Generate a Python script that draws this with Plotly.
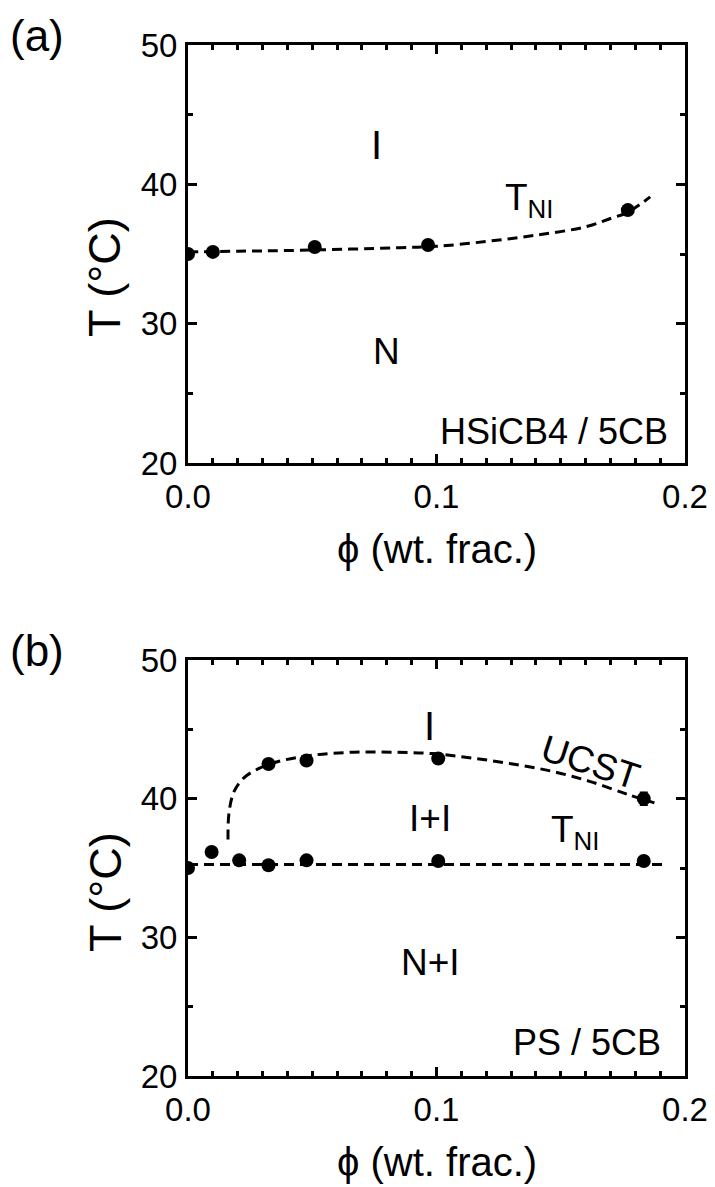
import plotly.graph_objects as go

# ---------------- data ----------------
# panel (a): HSiCB4 / 5CB
phi_a = [0.0, 0.01, 0.051, 0.0966, 0.177]
tni_a = [35.0, 35.15, 35.5, 35.65, 38.15]
# dashed guide curve
curve_a_x = [0.0, 0.02, 0.04, 0.065, 0.085, 0.1, 0.12, 0.14, 0.16, 0.17, 0.177, 0.186]
curve_a_y = [35.15, 35.2, 35.25, 35.35, 35.45, 35.55, 35.9, 36.35, 36.95, 37.55, 38.0, 39.1]

# panel (b): PS / 5CB
phi_b = [0.0, 0.0095, 0.0206, 0.0324, 0.0477, 0.1007, 0.1834]
tni_b = [35.0, 36.15, 35.55, 35.2, 35.55, 35.5, 35.5]
phi_ucst = [0.0324, 0.0477, 0.1007, 0.1834]
ucst = [42.5, 42.75, 42.9, 40.0]
ucst_err = [0, 0, 0, 0.45]
tni_line_x = [0.0, 0.193]
tni_line_y = [35.25, 35.25]
ucst_curve_x = [0.0161, 0.0165, 0.0185, 0.0225, 0.0288, 0.0367, 0.0509, 0.0667,
                0.0825, 0.0984, 0.1142, 0.13, 0.1458, 0.1616, 0.177, 0.1877]
ucst_curve_y = [37.05, 38.97, 40.5, 41.5, 42.2, 42.7, 43.15, 43.35,
                43.35, 43.25, 42.93, 42.52, 42.0, 41.25, 40.3, 39.7]

x_ticks = [0.0, 0.1, 0.2]
x_ticklabels = ["0.0", "0.1", "0.2"]
y_ticks = [20, 30, 40, 50]
y_ticklabels = ["20", "30", "40", "50"]

FONT = "Liberation Sans, Arial, sans-serif"
W, H = 715, 1187

def px2paper_y(py):
    return 1 - py / H

fig = go.Figure()

dash = "10px,6px"
LW = 3
# panel a
fig.add_trace(go.Scatter(x=curve_a_x, y=curve_a_y, mode="lines", line=dict(color="black", width=LW, dash=dash, shape="spline"),
                         xaxis="x", yaxis="y", showlegend=False))
fig.add_trace(go.Scatter(x=phi_a, y=tni_a, mode="markers", marker=dict(color="black", size=14),
                         xaxis="x", yaxis="y", showlegend=False))
# panel b
fig.add_trace(go.Scatter(x=tni_line_x, y=tni_line_y, mode="lines", line=dict(color="black", width=LW, dash=dash),
                         xaxis="x2", yaxis="y2", showlegend=False))
fig.add_trace(go.Scatter(x=ucst_curve_x, y=ucst_curve_y, mode="lines", line=dict(color="black", width=LW, dash=dash, shape="spline"),
                         xaxis="x2", yaxis="y2", showlegend=False))
fig.add_trace(go.Scatter(x=phi_b, y=tni_b, mode="markers", marker=dict(color="black", size=14),
                         xaxis="x2", yaxis="y2", showlegend=False))
fig.add_trace(go.Scatter(x=phi_ucst, y=ucst, mode="markers", marker=dict(color="black", size=14),
                         error_y=dict(type="data", array=ucst_err, color="black", thickness=2, width=4),
                         xaxis="x2", yaxis="y2", showlegend=False))

xdom = [188 / W, 685 / W]
ydom_a = [px2paper_y(463), px2paper_y(45)]
ydom_b = [px2paper_y(1076), px2paper_y(660)]

def xaxis(anchor, dom):
    return dict(domain=dom, anchor=anchor, range=[0, 0.2], tickvals=x_ticks, ticktext=x_ticklabels,
                ticks="inside", ticklen=9, tickwidth=2.5, tickcolor="black",
                minor=dict(dtick=0.01, tick0=0, ticks="inside", ticklen=5, tickwidth=2.5, tickcolor="black"),
                showline=True, linewidth=3, linecolor="black", mirror="ticks",
                showgrid=False, zeroline=False, automargin=False,
                tickfont=dict(family=FONT, size=33, color="black"), ticklabelstandoff=2)

def yaxis(anchor, dom):
    return dict(domain=dom, anchor=anchor, range=[20, 50], tickvals=y_ticks, ticktext=y_ticklabels,
                ticks="inside", ticklen=9, tickwidth=2.5, tickcolor="black",
                minor=dict(dtick=5, tick0=0, ticks="inside", ticklen=5, tickwidth=2.5, tickcolor="black"),
                showline=True, linewidth=3, linecolor="black", mirror="ticks",
                showgrid=False, zeroline=False, automargin=False,
                tickfont=dict(family=FONT, size=33, color="black"), ticklabelstandoff=1)

fig.update_layout(
    width=W, height=H, margin=dict(l=0, r=0, t=0, b=0, pad=0, autoexpand=False),
    paper_bgcolor="white", plot_bgcolor="white",
    xaxis=xaxis("y", xdom), yaxis=yaxis("x", ydom_a),
    xaxis2=xaxis("y2", xdom), yaxis2=yaxis("x2", ydom_b),
)

def ann(text, x, y, xref, yref, size, **kw):
    d = dict(text=text, x=x, y=y, xref=xref, yref=yref, showarrow=False,
             font=dict(family=FONT, size=size, color="black"))
    d.update(kw)
    fig.add_annotation(**d)

# panel labels
ann("(a)", 8 / W, px2paper_y(35), "paper", "paper", 44, xanchor="left", yanchor="middle")
ann("(b)", 8 / W, px2paper_y(650), "paper", "paper", 44, xanchor="left", yanchor="middle")

# axis titles
for top, bot in [(45, 463), (660, 1076)]:
    ann("T (°C)", 105 / W, px2paper_y(top + 232), "paper", "paper", 45, textangle=-90,
        xanchor="center", yanchor="middle")
    ann("ϕ (wt. frac.)", 437 / W, px2paper_y(bot + 86), "paper", "paper", 40,
        xanchor="center", yanchor="middle")

# panel a labels
ann("I", 0.076, 42.8, "x", "y", 40)
ann("N", 0.08, 28.0, "x", "y", 37)
ann("T<sub>NI</sub>", 0.1375, 38.9, "x", "y", 37)
ann("HSiCB4 / 5CB", 0.194, 22.25, "x", "y", 36, xanchor="right")

# panel b labels
ann("I", 0.0972, 45.25, "x2", "y2", 40)
ann("I+I", 0.0972, 38.6, "x2", "y2", 37)
ann("T<sub>NI</sub>", 0.156, 37.6, "x2", "y2", 37)
ann("UCST", 0.162, 42.6, "x2", "y2", 37, textangle=18)
ann("N+I", 0.0975, 28.2, "x2", "y2", 37)
ann("PS / 5CB", 0.191, 22.4, "x2", "y2", 36, xanchor="right")

fig.write_html("out.html", config={"displayModeBar": False},
               post_script="document.body.style.margin='0px';document.body.style.padding='0px';")
